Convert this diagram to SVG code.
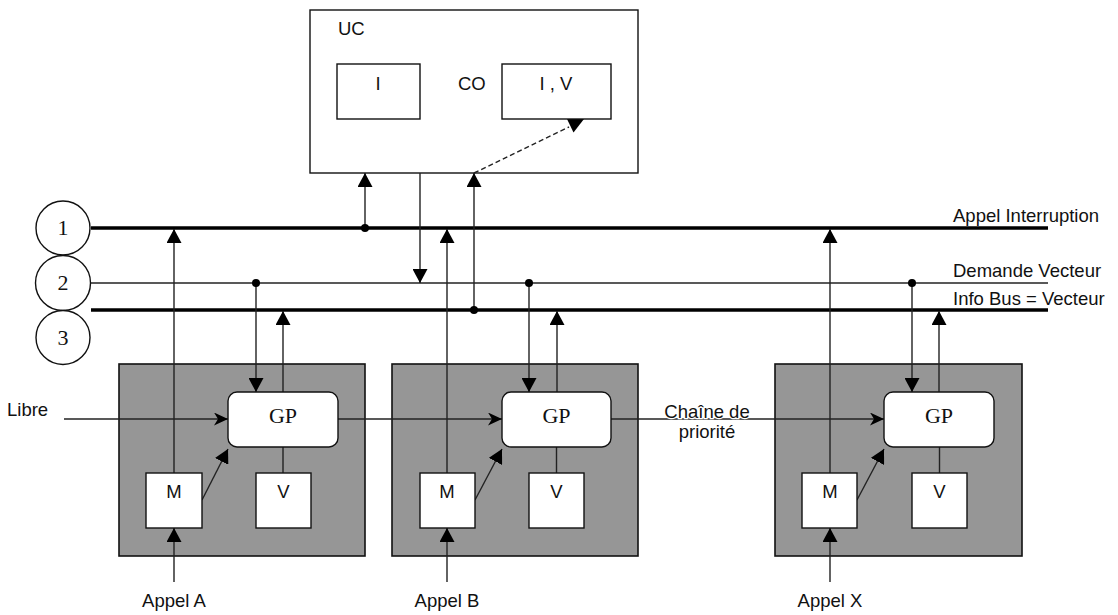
<svg xmlns="http://www.w3.org/2000/svg" width="1118" height="615" viewBox="0 0 1118 615">
<style>
  .sans { font-family: "Liberation Sans", Arial, sans-serif; font-size: 18.5px; fill: #111; }
  .serif { font-family: "Liberation Serif", "Times New Roman", serif; font-size: 22px; fill: #111; }
  .box { fill: #fff; stroke: #111; stroke-width: 1.4; }
  .mod { fill: #969696; stroke: #111; stroke-width: 1.6; }
  .ln { fill: none; stroke: #222; stroke-width: 1.4; }
  .bus { fill: none; stroke: #000; stroke-width: 3.6; }
  .dot { fill: #000; }
</style>
<defs>
  <marker id="tri" markerUnits="userSpaceOnUse" viewBox="0 0 14 15" refX="14" refY="7.5" markerWidth="14" markerHeight="15" orient="auto">
    <path d="M0,0 L14,7.5 L0,15 z" fill="#000"/>
  </marker>
  <marker id="stealth" markerUnits="userSpaceOnUse" viewBox="0 0 14 13" refX="14" refY="6.5" markerWidth="14" markerHeight="13" orient="auto">
    <path d="M0,0 L14,6.5 L0,13 L4,6.5 z" fill="#000"/>
  </marker>
</defs>
<rect width="1118" height="615" fill="#fff"/>

<!-- UC -->
<g id="uc">
  <rect class="box" x="310" y="10" width="328" height="163"/>
  <text class="sans" x="338" y="35">UC</text>
  <text class="sans" x="458" y="90">CO</text>
</g>
<g id="uc-i">
  <rect class="box" x="337" y="64" width="83" height="55"/>
  <text class="sans" x="378" y="90" text-anchor="middle">I</text>
</g>

<!-- bus circles -->
<g id="bus1-label">
  <circle class="box" cx="63" cy="228" r="27"/>
  <text class="serif" x="63" y="235" text-anchor="middle">1</text>
</g>
<g id="bus2-label">
  <circle class="box" cx="63" cy="283" r="27.5"/>
  <text class="serif" x="63" y="290" text-anchor="middle">2</text>
</g>
<g id="bus3-label">
  <circle class="box" cx="63" cy="337.5" r="27"/>
  <text class="serif" x="63" y="345" text-anchor="middle">3</text>
</g>

<!-- modules backgrounds -->
<g id="module-a"><rect class="mod" x="119" y="364" width="246" height="192"/></g>
<g id="module-b"><rect class="mod" x="392" y="364" width="246" height="192"/></g>
<g id="module-x"><rect class="mod" x="775" y="364" width="247" height="192"/></g>

<!-- connectors -->
<g id="connectors">
  <line class="bus" x1="91" y1="228" x2="1048" y2="228"/>
  <line class="ln" x1="91" y1="283" x2="1048" y2="283"/>
  <line class="bus" x1="91" y1="310" x2="1048" y2="310"/>

  <!-- UC links -->
  <line class="ln" x1="365" y1="228" x2="365" y2="173" marker-end="url(#tri)"/>
  <line class="ln" x1="420" y1="173" x2="420" y2="283" marker-end="url(#tri)"/>
  <line class="ln" x1="474" y1="310" x2="474" y2="173" marker-end="url(#tri)"/>
  <line class="ln" x1="474" y1="173" x2="569" y2="127" stroke-dasharray="5,3"/>
  <polygon points="567,119 584,119 573.5,132.5" fill="#000"/>
  <circle class="dot" cx="365" cy="228" r="4"/>
  <circle class="dot" cx="474" cy="310" r="4"/>

  <!-- module A -->
  <line class="ln" x1="174" y1="473" x2="174" y2="229" marker-end="url(#tri)"/>
  <line class="ln" x1="256" y1="283" x2="256" y2="392" marker-end="url(#tri)"/>
  <line class="ln" x1="283" y1="392" x2="283" y2="311" marker-end="url(#tri)"/>
  <line class="ln" x1="283" y1="447" x2="283" y2="473"/>
  <line class="ln" x1="64" y1="419" x2="228" y2="419" marker-end="url(#stealth)"/>
  <line class="ln" x1="202" y1="500" x2="228" y2="449" marker-end="url(#tri)"/>
  <line class="ln" x1="174" y1="582" x2="174" y2="528" marker-end="url(#tri)"/>
  <circle class="dot" cx="256" cy="283" r="4"/>

  <!-- module B -->
  <line class="ln" x1="447" y1="473" x2="447" y2="229" marker-end="url(#tri)"/>
  <line class="ln" x1="529" y1="283" x2="529" y2="392" marker-end="url(#tri)"/>
  <line class="ln" x1="557" y1="392" x2="557" y2="311" marker-end="url(#tri)"/>
  <line class="ln" x1="556.5" y1="447" x2="556.5" y2="473"/>
  <line class="ln" x1="338" y1="419" x2="502" y2="419" marker-end="url(#stealth)"/>
  <line class="ln" x1="475" y1="500" x2="502" y2="449" marker-end="url(#tri)"/>
  <line class="ln" x1="447" y1="582" x2="447" y2="528" marker-end="url(#tri)"/>
  <circle class="dot" cx="529" cy="283" r="4"/>

  <!-- module X -->
  <line class="ln" x1="830" y1="473" x2="830" y2="229" marker-end="url(#tri)"/>
  <line class="ln" x1="912" y1="283" x2="912" y2="392" marker-end="url(#tri)"/>
  <line class="ln" x1="939" y1="392" x2="939" y2="311" marker-end="url(#tri)"/>
  <line class="ln" x1="939.5" y1="447" x2="939.5" y2="473"/>
  <line class="ln" x1="611" y1="419" x2="884" y2="419" marker-end="url(#stealth)"/>
  <line class="ln" x1="857" y1="500" x2="884" y2="449" marker-end="url(#tri)"/>
  <line class="ln" x1="830" y1="582" x2="830" y2="528" marker-end="url(#tri)"/>
  <circle class="dot" cx="912" cy="283" r="4"/>

  <text class="sans" x="953" y="222">Appel Interruption</text>
  <text class="sans" x="953" y="277">Demande Vecteur</text>
  <text class="sans" x="953" y="305">Info Bus = Vecteur</text>
  <text class="sans" x="7" y="416">Libre</text>
  <text class="sans" x="707" y="418" text-anchor="middle" stroke="#fff" stroke-width="2.5" paint-order="stroke">Chaîne de</text>
  <text class="sans" x="707" y="438" text-anchor="middle">priorité</text>
  <text class="sans" x="174" y="607" text-anchor="middle">Appel A</text>
  <text class="sans" x="447" y="607" text-anchor="middle">Appel B</text>
  <text class="sans" x="830" y="607" text-anchor="middle">Appel X</text>
</g>

<g id="uc-iv">
  <rect class="box" x="502" y="64" width="109" height="55"/>
  <text class="sans" x="556" y="90" text-anchor="middle">I , V</text>
</g>

<!-- inner nodes -->
<g id="gp-a"><rect class="box" x="228" y="392" width="110" height="55" rx="9"/><text class="serif" x="283" y="423" text-anchor="middle">GP</text></g>
<g id="m-a"><rect class="box" x="146" y="473" width="56" height="55"/><text class="sans" x="174" y="498" text-anchor="middle">M</text></g>
<g id="v-a"><rect class="box" x="256" y="473" width="55" height="55"/><text class="sans" x="283.5" y="498" text-anchor="middle">V</text></g>

<g id="gp-b"><rect class="box" x="502" y="392" width="109" height="55" rx="9"/><text class="serif" x="556.5" y="423" text-anchor="middle">GP</text></g>
<g id="m-b"><rect class="box" x="420" y="473" width="55" height="55"/><text class="sans" x="447" y="498" text-anchor="middle">M</text></g>
<g id="v-b"><rect class="box" x="529" y="473" width="55" height="55"/><text class="sans" x="556.5" y="498" text-anchor="middle">V</text></g>

<g id="gp-x"><rect class="box" x="884" y="392" width="110" height="55" rx="9"/><text class="serif" x="939" y="423" text-anchor="middle">GP</text></g>
<g id="m-x"><rect class="box" x="802" y="473" width="55" height="55"/><text class="sans" x="830" y="498" text-anchor="middle">M</text></g>
<g id="v-x"><rect class="box" x="912" y="473" width="55" height="55"/><text class="sans" x="939.5" y="498" text-anchor="middle">V</text></g>
</svg>
